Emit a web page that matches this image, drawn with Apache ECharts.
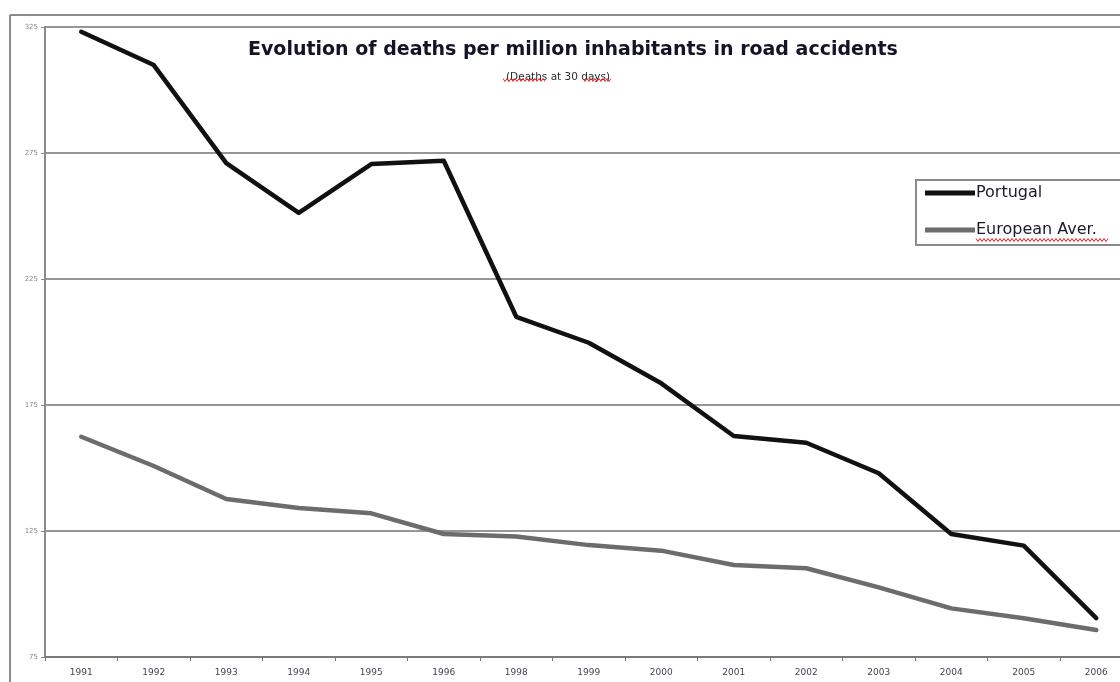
<!DOCTYPE html>
<html>
<head>
<meta charset="utf-8">
<script src="https://cdn.jsdelivr.net/npm/echarts@6/dist/echarts.min.js"></script>
<style>
html,body{margin:0;padding:0;background:#fff;}
#chart{width:1120px;height:682px;}
</style>
</head>
<body>
<div id="chart"></div>
<script>
var years = ['1991','1992','1993','1994','1995','1996','1998','1999','2000','2001','2002','2003','2004','2005','2006'];
var portugal = [323.1, 309.9, 271.0, 251.2, 270.6, 271.9, 210.0, 199.7, 183.6, 162.7, 160.0, 147.9, 123.8, 119.2, 90.4];
var europeanAvg = [162.4, 150.8, 137.7, 134.1, 132.0, 123.8, 122.8, 119.4, 117.2, 111.5, 110.2, 102.6, 94.3, 90.4, 85.7];
var yMin = 75, yMax = 325, yStep = 50;
var titleText = 'Evolution of deaths per million inhabitants in road accidents';
var subtitleText = '(Deaths at 30 days)';
var seriesNames = ['Portugal', 'European Aver.'];

function squiggle(x0, x1, y) {
  var pts = [], i = 0;
  for (var x = x0; x <= x1; x += 2) { pts.push([x, y + (i % 2 ? 1.5 : -1.5)]); i++; }
  return pts;
}

var chart = echarts.init(document.getElementById('chart'));
chart.setOption({
  backgroundColor: '#ffffff',
  animation: false,
  title: [
    { text: titleText, left: 243, top: 36,
      textStyle: { fontFamily: 'DejaVu Sans', fontWeight: 'bold', fontSize: 19, color: '#141428' } },
    { text: subtitleText, left: 501, top: 67,
      textStyle: { fontFamily: 'DejaVu Sans', fontWeight: 'normal', fontSize: 10.5, color: '#2a2a2a' } }
  ],
  legend: {
    left: 916, top: 180, orient: 'vertical',
    data: seriesNames,
    icon: 'rect', itemWidth: 50, itemHeight: 5, itemGap: 19,
    padding: [4, 80, 6, 9],
    backgroundColor: '#fff', borderColor: '#8a8a8a', borderWidth: 2,
    textStyle: { fontFamily: 'DejaVu Sans', fontSize: 16, color: '#1a1a2a', lineHeight: 18, padding: [0,0,0,-4] }
  },
  grid: { left: 45, top: 27, width: 1087.5, height: 630, containLabel: false, outerBoundsMode: 'none' },
  xAxis: {
    type: 'category', data: years, boundaryGap: true,
    axisLine: { show: true, lineStyle: { color: '#7a7a7a', width: 2 } },
    axisTick: { show: true, length: 4, lineStyle: { color: '#777', width: 1 } },
    axisLabel: { margin: 11, fontFamily: 'DejaVu Sans', fontSize: 9, color: '#445' },
    splitLine: { show: false }
  },
  yAxis: {
    type: 'value', min: yMin, max: yMax, interval: yStep,
    axisLine: { show: true, lineStyle: { color: '#8a8a8a', width: 2 } },
    axisTick: { show: true, length: 4, lineStyle: { color: '#888' } },
    axisLabel: { margin: 7, fontFamily: 'DejaVu Sans', fontSize: 7, color: '#888' },
    splitLine: { show: true, lineStyle: { color: '#969696', width: 2 } }
  },
  series: [
    { name: seriesNames[0], type: 'line', data: portugal, symbol: 'none', z: 3,
      itemStyle: { color: '#111111' },
      lineStyle: { color: '#111111', width: 4.5, cap: 'round', join: 'round' } },
    { name: seriesNames[1], type: 'line', data: europeanAvg, symbol: 'none', z: 2,
      itemStyle: { color: '#6c6c6c' },
      lineStyle: { color: '#6c6c6c', width: 4.5, cap: 'round', join: 'round' } }
  ],
  graphic: [
    { type: 'line', shape: { x1: 10, y1: 15, x2: 1120, y2: 15 }, style: { stroke: '#8a8a8a', lineWidth: 2 }, silent: true },
    { type: 'line', shape: { x1: 10, y1: 15, x2: 10, y2: 682 }, style: { stroke: '#8a8a8a', lineWidth: 2 }, silent: true },
    { type: 'polyline', shape: { points: squiggle(976, 1108, 240) }, style: { stroke: '#e02020', lineWidth: 1, fill: null }, z: 100, silent: true },
    { type: 'polyline', shape: { points: squiggle(503, 545, 80) }, style: { stroke: '#e02020', lineWidth: 1, fill: null }, z: 100, silent: true },
    { type: 'polyline', shape: { points: squiggle(583, 612, 80) }, style: { stroke: '#e02020', lineWidth: 1, fill: null }, z: 100, silent: true }
  ]
});
</script>
</body>
</html>
